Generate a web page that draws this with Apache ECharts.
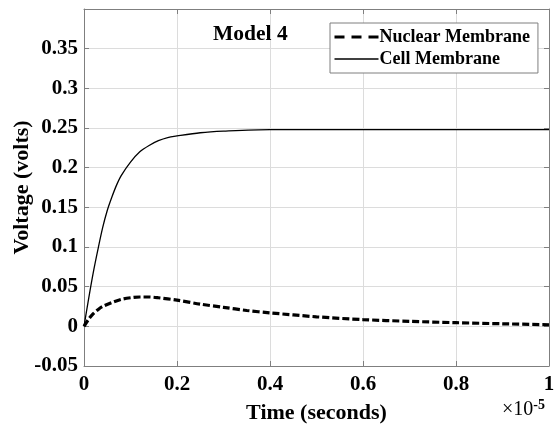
<!DOCTYPE html>
<html>
	<head>
		<meta charset="UTF-8">
		<title>Model 4</title>
		<script src="https://cdn.jsdelivr.net/npm/echarts@6/dist/echarts.min.js" type="text/javascript" charset="utf-8"></script>
		<style>
			html, body { margin: 0; padding: 0; background: #fff; }
		</style>
	</head>
	<body>
		<div id="chart" style="width: 557px;height: 425px;"></div>
		<script type="text/javascript">
			// time in units of 1e-5 s
			var cellTime = [0, 0.01, 0.02, 0.03, 0.04, 0.05, 0.06, 0.07, 0.08, 0.10, 0.12, 0.14, 0.16, 0.18, 0.20, 0.25, 0.30, 0.40, 0.60, 0.80, 1.0];
			var cellVolt = [0, 0.035, 0.068, 0.097, 0.124, 0.146, 0.163, 0.178, 0.190, 0.207, 0.220, 0.228, 0.234, 0.238, 0.240, 0.244, 0.246, 0.248, 0.248, 0.248, 0.248];

			var nucTime = [0, 0.01, 0.02, 0.03, 0.04, 0.06, 0.08, 0.10, 0.12, 0.14, 0.16, 0.20, 0.25, 0.30, 0.35, 0.40, 0.50, 0.60, 0.70, 0.80, 0.90, 1.0];
			var nucVolt = [0, 0.009, 0.016, 0.021, 0.025, 0.030, 0.034, 0.036, 0.037, 0.037, 0.036, 0.033, 0.028, 0.024, 0.020, 0.017, 0.012, 0.0085, 0.0063, 0.0046, 0.0032, 0.002];

			var seriesNames = ['Nuclear Membrane', 'Cell Membrane'];

			function pairs(xs, ys) {
				var out = [];
				for (var i = 0; i < xs.length; i++) out.push([xs[i], ys[i]]);
				return out;
			}

			var font = 'Liberation Serif';
			var frameColor = '#7f7f7f';
			var gridColor = '#dcdcdc';

			// 边框轴（上、右）只画线和刻度
			function frameAxis(extra) {
				var a = {
					type: 'value',
					axisLine: {show: true, onZero: false, lineStyle: {color: frameColor}},
					axisTick: {show: true, inside: true, length: 5, lineStyle: {color: frameColor}},
					axisLabel: {show: false},
					splitLine: {show: false}
				};
				for (var k in extra) a[k] = extra[k];
				return a;
			}

			var chart = echarts.init(document.getElementById('chart'));
			var option = {
				animation: false,
				textStyle: {fontFamily: font},
				grid: {left: 84, right: 8, top: 9, bottom: 59, containLabel: false, outerBoundsMode: 'none'},
				title: {
					text: 'Model 4',
					left: 208, top: 18,
					textStyle: {fontFamily: font, fontWeight: 'bold', fontSize: 21.5, color: '#000'}
				},
				legend: {
					orient: 'vertical',
					left: 330, top: 23,
					width: 206,
					padding: [5, 8, 5, 3],
					itemGap: 4,
					itemWidth: 44,
					itemHeight: 14,
					backgroundColor: '#fff',
					borderColor: frameColor,
					borderWidth: 1,
					borderRadius: 0,
					itemStyle: {color: 'rgba(0,0,0,0)', borderWidth: 0, opacity: 0},
					textStyle: {fontFamily: font, fontWeight: 'bold', fontSize: 18, color: '#000', padding: [0, 0, 0, -4]},
					data: [
						{name: seriesNames[0], lineStyle: {width: 3, type: [10, 7]}},
						{name: seriesNames[1], lineStyle: {width: 1.3}}
					]
				},
				xAxis: [{
					type: 'value',
					min: 0, max: 1, interval: 0.2,
					name: 'Time (seconds)',
					nameLocation: 'middle',
					nameGap: 36,
					nameMoveOverlap: false,
					nameTextStyle: {fontFamily: font, fontWeight: 'bold', fontSize: 22, color: '#000'},
					axisLine: {show: true, onZero: false, lineStyle: {color: frameColor}},
					axisTick: {show: true, inside: true, length: 5, lineStyle: {color: frameColor}},
					axisLabel: {
						margin: 8, fontFamily: font, fontWeight: 'bold', fontSize: 21, color: '#000',
						formatter: function (v) { return String(parseFloat(v.toFixed(2))); }
					},
					splitLine: {show: true, lineStyle: {color: gridColor}}
				}, frameAxis({position: 'top', min: 0, max: 1, interval: 0.2})],
				yAxis: [{
					type: 'value',
					min: -0.05, max: 0.4, interval: 0.05,
					name: 'Voltage (volts)',
					nameLocation: 'middle',
					nameGap: 51,
					nameMoveOverlap: false,
					nameTextStyle: {fontFamily: font, fontWeight: 'bold', fontSize: 22, color: '#000'},
					axisLine: {show: true, onZero: false, lineStyle: {color: frameColor}},
					axisTick: {show: true, inside: true, length: 5, lineStyle: {color: frameColor}},
					axisLabel: {
						margin: 6, fontFamily: font, fontWeight: 'bold', fontSize: 21, color: '#000',
						formatter: function (v) {
							var r = parseFloat(v.toFixed(2));
							return r >= 0.4 ? '' : String(r);
						}
					},
					splitLine: {show: true, lineStyle: {color: gridColor}}
				}, frameAxis({position: 'right', min: -0.05, max: 0.4, interval: 0.05})],
				graphic: [{
					type: 'text',
					left: 502, top: 398,
					style: {
						text: '×10{s|-5}',
						font: '20px "Liberation Serif"',
						fill: '#000',
						rich: {s: {fontSize: 14, fontFamily: font, fontWeight: 'bold', verticalAlign: 'top', padding: [0, 0, 10, 0]}}
					}
				}],
				series: [{
					name: seriesNames[0],
					type: 'line',
					data: pairs(nucTime, nucVolt),
					smooth: 0.3,
					showSymbol: false,
					symbol: 'none',
					color: '#000',
					lineStyle: {color: '#000', width: 3.2, type: [7, 3]},
					z: 3
				}, {
					name: seriesNames[1],
					type: 'line',
					data: pairs(cellTime, cellVolt),
					smooth: 0.3,
					showSymbol: false,
					symbol: 'none',
					color: '#000',
					lineStyle: {color: '#000', width: 1.3},
					z: 2
				}]
			};
			chart.setOption(option, true);
		</script>
	</body>
</html>
